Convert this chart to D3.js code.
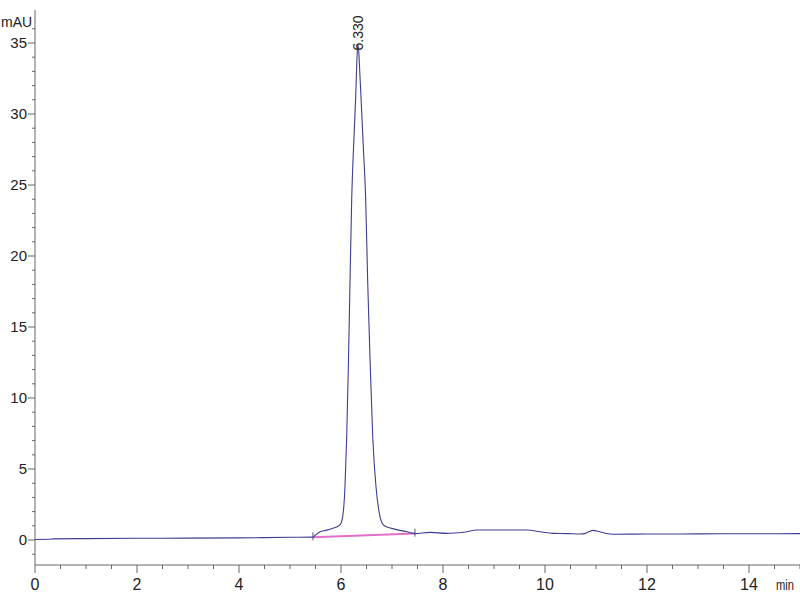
<!DOCTYPE html>
<html>
<head>
<meta charset="utf-8">
<script src="https://cdn.jsdelivr.net/npm/d3@7"></script>
<style>
  html, body { margin: 0; padding: 0; background: #fff; overflow: hidden; }
  svg { display: block; }
  svg text { font-family: "Liberation Sans Narrow", "Arial Narrow", "Liberation Sans", sans-serif; fill: #222; }
</style>
</head>
<body>
<div id="chart"></div>
<script>
// chromatogram trace (time in min, signal in mAU)
const traceTime = [
  0.0, 0.3, 0.35, 1.0, 2.0, 3.0, 4.0, 5.0, 5.45, 5.5, 5.59, 5.7, 5.84, 5.98,
  6.033, 6.078, 6.112, 6.143, 6.176, 6.21, 6.25, 6.288, 6.31, 6.33, 6.35, 6.37,
  6.392, 6.44, 6.484, 6.524, 6.575, 6.622, 6.686, 6.765, 6.83, 6.9, 6.994, 7.15,
  7.288, 7.45, 7.75, 8.08, 8.4, 8.67, 9.2, 9.65, 9.9, 10.16, 10.45, 10.69, 10.78,
  10.86, 10.94, 11.05, 11.18, 11.34, 12.0, 13.0, 14.0, 15.0
];
const traceValue = [
  0.04, 0.05, 0.08, 0.1, 0.12, 0.13, 0.15, 0.19, 0.2, 0.35, 0.58, 0.68, 0.82, 1.06,
  1.64, 3.75, 7.3, 12.0, 18.1, 24.0, 28.0, 31.2, 33.6, 34.9, 34.3, 32.8,
  31.2, 27.5, 24.0, 18.1, 12.1, 7.3, 3.75, 1.64, 1.06, 0.92, 0.82, 0.68,
  0.58, 0.45, 0.54, 0.47, 0.55, 0.7, 0.7, 0.7, 0.58, 0.47, 0.45, 0.42, 0.45,
  0.58, 0.68, 0.6, 0.47, 0.4, 0.42, 0.43, 0.44, 0.45
];

// integration baseline (start, end)
const baseTime = [5.45, 7.45];
const baseValue = [0.2, 0.45];

const peakTime = 6.33;
const peakValue = 34.9;
const peakLabel = '6.330';

const xTicksMajor = [0, 2, 4, 6, 8, 10, 12, 14];
const yTicksMajor = [0, 5, 10, 15, 20, 25, 30, 35];

const width = 800;
const height = 600;

const svg = d3.select('#chart')
  .append('svg')
  .attr('width', width)
  .attr('height', height);

const x = d3.scaleLinear().domain([0, 15]).range([35, 800]);
const y = d3.scaleLinear().domain([0, 35]).range([540, 43]);

const axisColor = '#666';
const axisY = 565;

// x axis
const gx = svg.append('g').attr('transform', `translate(0,${axisY})`);
gx.append('line')
  .attr('x1', x(0)).attr('x2', x(15))
  .attr('stroke', axisColor);
gx.selectAll('.minor')
  .data(d3.range(0, 15.01, 0.5))
  .enter()
  .append('line')
  .attr('x1', (d) => x(d)).attr('x2', (d) => x(d))
  .attr('y1', 0)
  .attr('y2', (d) => (d % 2 === 0 ? 8 : 4))
  .attr('stroke', axisColor);
gx.selectAll('.lbl')
  .data(xTicksMajor)
  .enter()
  .append('text')
  .attr('x', (d) => x(d))
  .attr('y', 25)
  .attr('text-anchor', 'middle')
  .style('font-size', '16px')
  .text((d) => d);
gx.append('text')
  .attr('x', 776)
  .attr('y', 25)
  .attr('textLength', 18)
  .attr('lengthAdjust', 'spacingAndGlyphs')
  .style('font-size', '14px')
  .text('min');

// y axis
const gy = svg.append('g').attr('transform', `translate(${x(0)},0)`);
gy.append('line')
  .attr('y1', 10).attr('y2', axisY)
  .attr('stroke', axisColor);
gy.selectAll('.minor')
  .data(d3.range(-1, 37, 1))
  .enter()
  .append('line')
  .attr('x1', (d) => (d % 5 === 0 ? -7 : -3))
  .attr('x2', 0)
  .attr('y1', (d) => y(d)).attr('y2', (d) => y(d))
  .attr('stroke', axisColor);
gy.selectAll('.lbl')
  .data(yTicksMajor)
  .enter()
  .append('text')
  .attr('x', -8)
  .attr('y', (d) => y(d))
  .attr('dy', '0.35em')
  .attr('text-anchor', 'end')
  .style('font-size', '15px')
  .text((d) => d);
svg.append('text')
  .attr('x', 1)
  .attr('y', 27)
  .style('font-size', '14px')
  .text('mAU');

// integration baseline
const baseData = baseTime.map((t, i) => ({ t, v: baseValue[i] }));
svg.append('path')
  .datum(baseData)
  .attr('fill', 'none')
  .attr('stroke', '#e26fc8')
  .attr('stroke-width', 2)
  .attr('d', d3.line().x((d) => x(d.t)).y((d) => y(d.v)));
svg.selectAll('.bmark')
  .data(baseData)
  .enter()
  .append('line')
  .attr('x1', (d) => x(d.t)).attr('x2', (d) => x(d.t))
  .attr('y1', (d) => y(d.v) - 5)
  .attr('y2', (d) => y(d.v) + 3)
  .attr('stroke', '#55558f');

// trace
const traceData = traceTime.map((t, i) => ({ t, v: traceValue[i] }));
svg.append('path')
  .datum(traceData)
  .attr('fill', 'none')
  .attr('stroke', '#3e3e92')
  .attr('stroke-width', 1.1)
  .attr('d', d3.line().curve(d3.curveMonotoneX).x((d) => x(d.t)).y((d) => y(d.v)));

// peak label
svg.append('text')
  .attr('transform', `translate(${x(peakTime)},${y(peakValue) + 6}) rotate(-90)`)
  .attr('dy', '0.35em')
  .style('font-size', '14px')
  .style('font-family', '"Liberation Sans", sans-serif')
  .text(peakLabel);
</script>
</body>
</html>
